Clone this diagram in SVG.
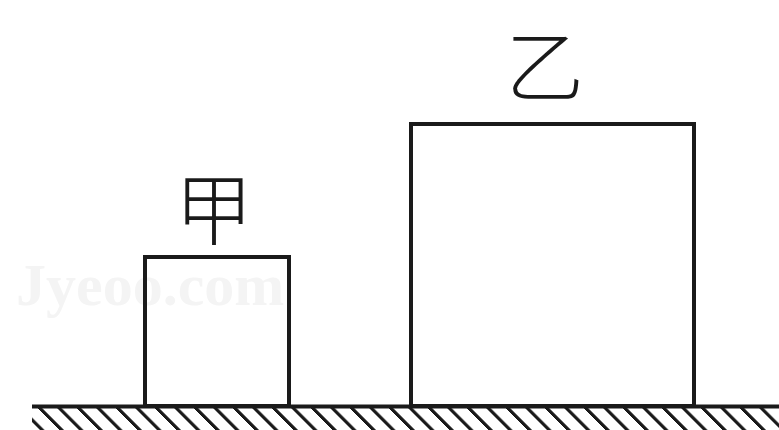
<svg xmlns="http://www.w3.org/2000/svg" width="779" height="430" viewBox="0 0 779 430">
  <style>
    .box { fill: none; stroke: #1a1a1a; stroke-width: 4; }
    .label { font-family: "Noto Sans CJK SC", "Noto Sans", sans-serif; font-size: 78px; font-weight: 300; fill: #1a1a1a; text-anchor: middle; }
    .wm { font-family: "Liberation Serif", serif; font-size: 60px; font-weight: bold; fill: #f4f4f4; }
  </style>
  <defs>
    <pattern id="hatch" width="19.5" height="30" patternUnits="userSpaceOnUse" patternTransform="skewX(45)">
      <rect x="0" y="0" width="4.5" height="30" fill="#1a1a1a"/>
    </pattern>
  </defs>
  <rect x="0" y="0" width="779" height="430" fill="#ffffff"/>
  <text class="wm" x="16" y="305">Jyeoo.com</text>
  <g id="ground">
    <rect x="32" y="408" width="747" height="22" fill="url(#hatch)"/>
    <line x1="32" y1="406.5" x2="779" y2="406.5" stroke="#1a1a1a" stroke-width="4"/>
  </g>
  <g id="jia">
    <rect class="box" x="145" y="257" width="144" height="149"/>
    <text class="label" x="214" y="239">甲</text>
  </g>
  <g id="yi">
    <rect class="box" x="411" y="124" width="283" height="282"/>
    <text class="label" x="545" y="96">乙</text>
  </g>
</svg>
